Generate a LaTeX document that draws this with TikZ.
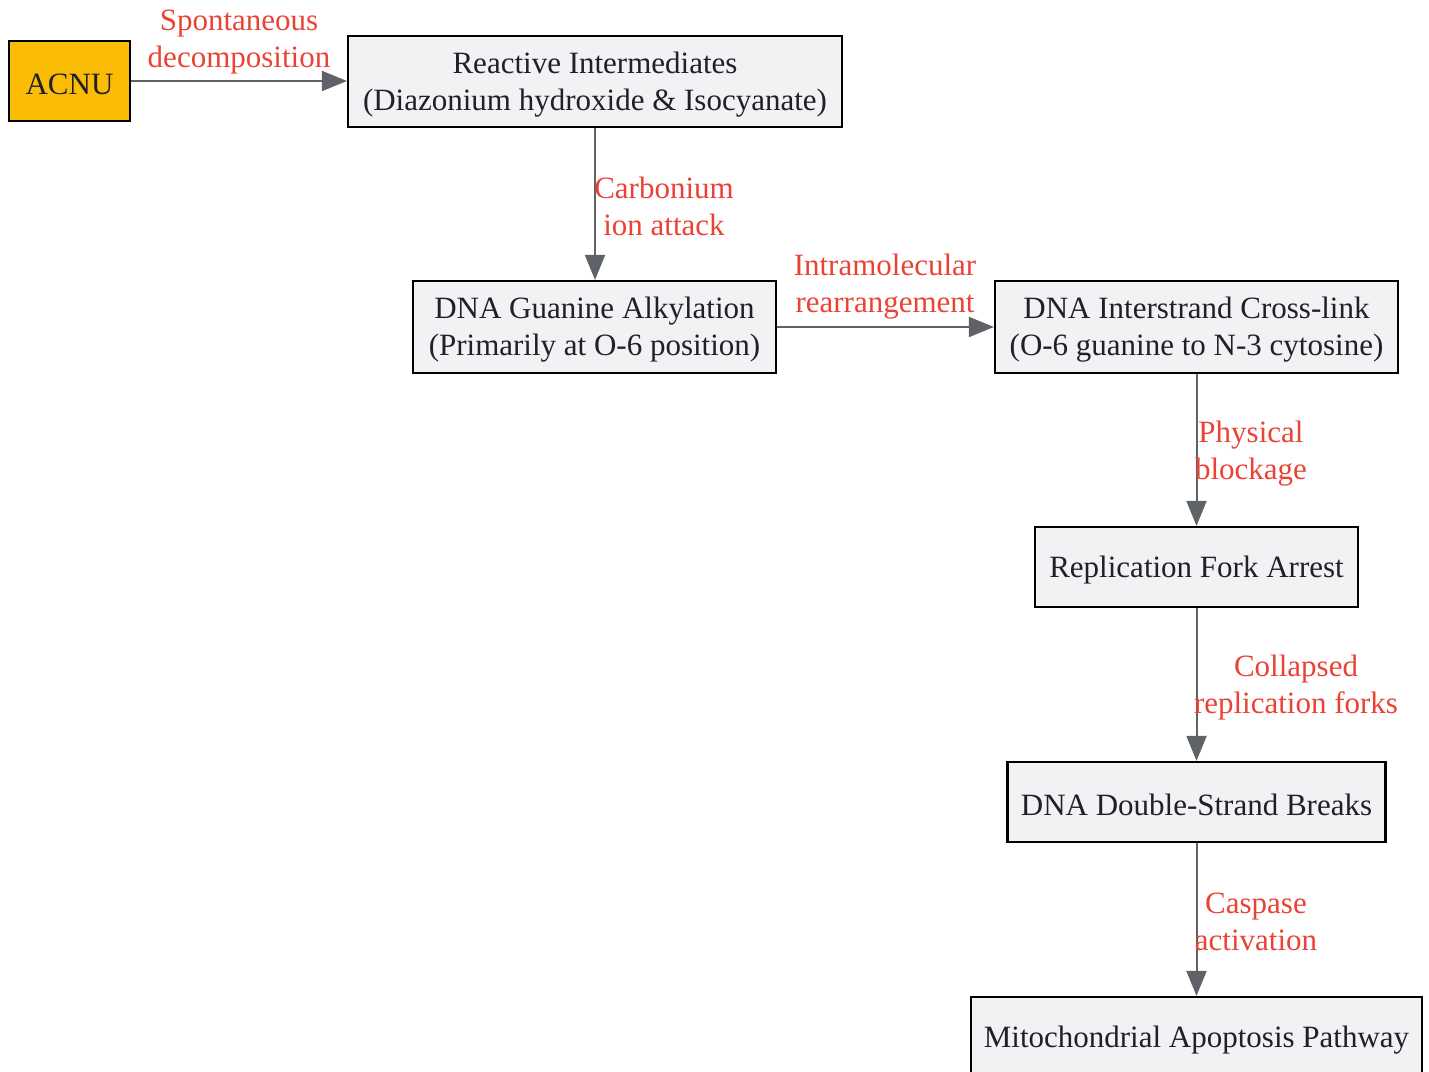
\documentclass[tikz,border=0pt]{standalone}
\usepackage{fontspec}
\setmainfont{Liberation Serif}
\usetikzlibrary{arrows.meta}
\definecolor{boxfill}{HTML}{F1F2F4}
\definecolor{acnufill}{HTML}{FBBC05}
\definecolor{edgecol}{HTML}{5F6368}
\definecolor{lblcol}{HTML}{EA4335}
\definecolor{txtcol}{HTML}{202124}
\begin{document}
\begin{tikzpicture}[x=0.5pt,y=-0.5pt,
  box/.style={draw=black, line width=1.1pt, fill=boxfill, inner sep=0pt},
  boxtext/.style={align=center, inner sep=0pt, text=txtcol, yshift=-1.5pt,
    font=\fontsize{15.5}{18.5}\selectfont},
  edge/.style={draw=edgecol, line width=1pt, -{Triangle[length=12.5pt,width=10pt]}},
  lbl/.style={text=lblcol, align=center, inner sep=0pt, font=\fontsize{15.5}{18.5}\selectfont}]
\useasboundingbox (0,0) rectangle (1429,1071);
\node[box, fill=acnufill, minimum width=60.5pt, minimum height=40pt,
  label={[boxtext]center:ACNU}] (acnu) at (69.5,81) {};
\node[box, minimum width=247pt, minimum height=45.5pt,
  label={[boxtext]center:Reactive Intermediates\\(Diazonium hydroxide \& Isocyanate)}] (ri) at (595,81.5) {};
\node[box, minimum width=181.5pt, minimum height=46pt,
  label={[boxtext]center:DNA Guanine Alkylation\\(Primarily at O-6 position)}] (ga) at (594.5,327) {};
\node[box, minimum width=201.5pt, minimum height=46pt,
  label={[boxtext]center:DNA Interstrand Cross-link\\(O-6 guanine to N-3 cytosine)}] (icl) at (1196.5,327) {};
\node[box, minimum width=161.5pt, minimum height=40pt,
  label={[boxtext]center:Replication Fork Arrest}] (rfa) at (1196.5,567) {};
\node[box, minimum width=189pt, minimum height=40pt,
  label={[boxtext]center:DNA Double-Strand Breaks}] (dsb) at (1196.5,802) {};
\node[box, minimum width=225.5pt, minimum height=40pt,
  label={[boxtext]center:Mitochondrial Apoptosis Pathway}] (map) at (1196.5,1037) {};

\draw[edge] (acnu.east) -- (acnu.east -| ri.west);
\draw[edge] (ri.south) -- (ri.south |- ga.north);
\draw[edge] (ga.east) -- (ga.east -| icl.west);
\draw[edge] (icl.south) -- (rfa.north);
\draw[edge] (rfa.south) -- (dsb.north);
\draw[edge] (dsb.south) -- (map.north);

\node[lbl] (l1) at (239,42) {Spontaneous\\decomposition};
\node[lbl] (l2) at (664,206) {Carbonium\\ion attack};
\node[lbl] (l3) at (885,287) {Intramolecular\\rearrangement};
\node[lbl] (l4) at (1251,454) {Physical\\blockage};
\node[lbl] (l5) at (1296,688) {Collapsed\\replication forks};
\node[lbl] (l6) at (1256,922) {Caspase\\activation};
\end{tikzpicture}
\end{document}
